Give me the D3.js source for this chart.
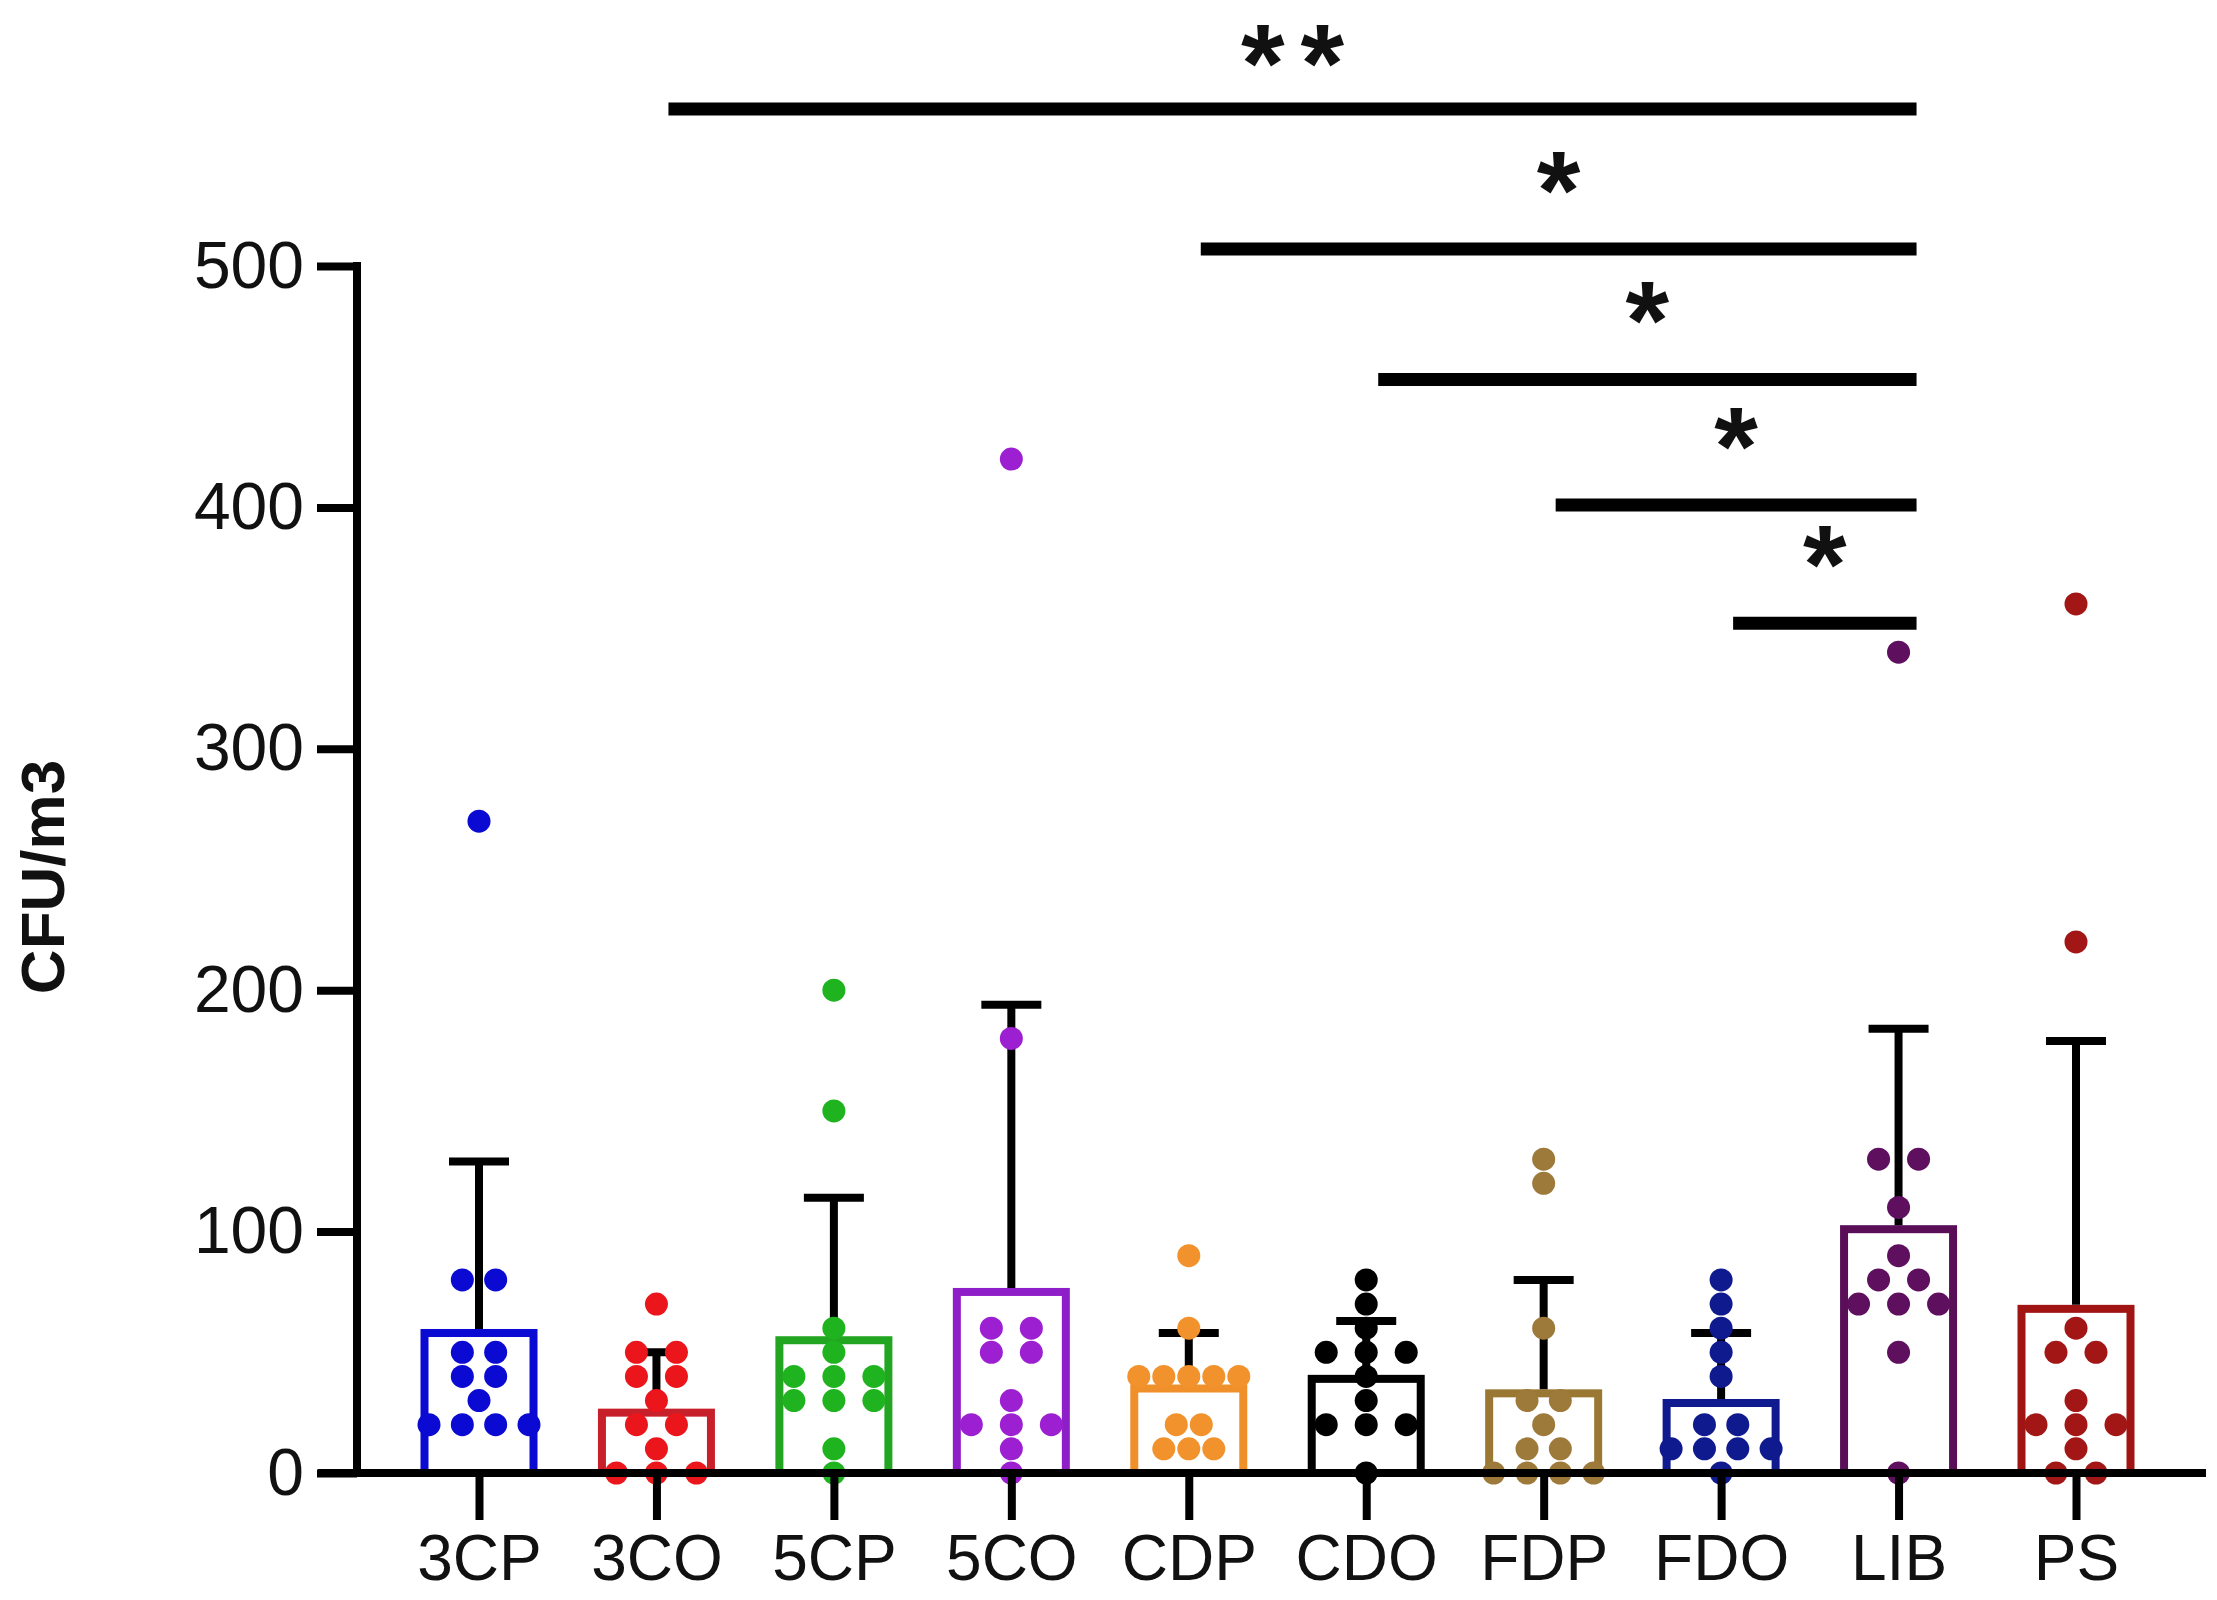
<!DOCTYPE html>
<html>
<head>
<meta charset="utf-8">
<script src="https://cdn.jsdelivr.net/npm/d3@7"></script>
<style>
  html, body { margin: 0; padding: 0; background: #ffffff; }
  svg { display: block; }
  text { font-family: "Liberation Sans", Arial, sans-serif; fill: #111; }
</style>
</head>
<body>
<svg id="chart" width="2217" height="1600"></svg>
<script>
// ---------- data ----------
const categories = ["3CP", "3CO", "5CP", "5CO", "CDP", "CDO", "FDP", "FDO", "LIB", "PS"];
const means      = [58, 25, 55, 75, 35, 39, 33, 29, 101, 68];
const errorTops  = [129, 50, 114, 194, 58, 63, 80, 58, 184, 179];
const points = [
  [270, 80, 80, 50, 50, 40, 40, 30, 20, 20, 20, 20],
  [70, 50, 50, 40, 40, 30, 20, 20, 10, 0, 0, 0],
  [200, 150, 60, 50, 40, 40, 40, 30, 30, 30, 10, 0],
  [420, 180, 60, 60, 50, 50, 30, 20, 20, 20, 10, 0],
  [90, 60, 40, 40, 40, 40, 40, 20, 20, 10, 10, 10],
  [80, 70, 60, 50, 50, 50, 40, 30, 20, 20, 20, 0],
  [130, 120, 60, 30, 30, 20, 10, 10, 0, 0, 0, 0],
  [80, 70, 60, 50, 40, 20, 20, 10, 10, 10, 10, 0],
  [340, 130, 130, 110, 90, 80, 80, 70, 70, 70, 50, 0],
  [360, 220, 60, 50, 50, 30, 20, 20, 20, 10, 0, 0]
];
const dotColors = ["#0a0ad2", "#ea161c", "#1fb41f", "#9c20d2", "#f1922c", "#000000", "#9d7a3a", "#0e1a8e", "#5e0f5e", "#a31616"];
const barColors = ["#0a0ad2", "#c8202a", "#22a622", "#8e1ec8", "#f0902a", "#000000", "#9a7834", "#0e1a8e", "#5a0e58", "#a01414"];
const yTicks = [0, 100, 200, 300, 400, 500];
const yLabel = "CFU/m3";
const comparisons = [
  { from: "3CO", to: "LIB", level: 565, label: "**" },
  { from: "CDP", to: "LIB", level: 507, label: "*" },
  { from: "CDO", to: "LIB", level: 453, label: "*" },
  { from: "FDP", to: "LIB", level: 401, label: "*" },
  { from: "FDO", to: "LIB", level: 352, label: "*" }
];

// ---------- layout ----------
const svg = d3.select("#chart");
const y = d3.scaleLinear().domain([0, 500]).range([1473, 266]);
const x = d3.scalePoint().domain(categories).range([479, 2076]);
const axisX = 357;
const barW = 109;

const g = svg.append("g");

// bars
g.selectAll("rect.bar").data(categories).join("rect")
  .attr("class", "bar")
  .attr("x", d => x(d) - barW / 2)
  .attr("y", (d, i) => y(means[i]))
  .attr("width", barW)
  .attr("height", (d, i) => y(0) - y(means[i]))
  .attr("fill", "none")
  .attr("stroke", (d, i) => barColors[i])
  .attr("stroke-width", 8);

// error bars
const eb = g.selectAll("g.eb").data(categories).join("g").attr("class", "eb");
eb.append("line")
  .attr("x1", d => x(d)).attr("x2", d => x(d))
  .attr("y1", (d, i) => y(means[i]) - 4)
  .attr("y2", (d, i) => y(errorTops[i]))
  .attr("stroke", "#000").attr("stroke-width", 8);
eb.append("line")
  .attr("x1", d => x(d) - 30).attr("x2", d => x(d) + 30)
  .attr("y1", (d, i) => y(errorTops[i]))
  .attr("y2", (d, i) => y(errorTops[i]))
  .attr("stroke", "#000").attr("stroke-width", 8);

// axes
const yAxis = d3.axisLeft(y).tickValues(yTicks).tickSize(40).tickPadding(13).tickSizeOuter(0);
const ya = svg.append("g").attr("transform", `translate(${axisX},0)`).call(yAxis);
ya.select(".domain").attr("stroke", "#000").attr("stroke-width", 8)
  .attr("d", `M0,${y(0)}V${y(500) - 4}`);
ya.selectAll(".tick line").attr("stroke", "#000").attr("stroke-width", 8);
ya.selectAll(".tick text").attr("font-size", 66).attr("fill", "#111")
  .attr("font-family", "Liberation Sans, Arial, sans-serif");

const xAxis = d3.axisBottom(x).tickSize(47).tickPadding(15).tickSizeOuter(0);
const xa = svg.append("g").attr("transform", `translate(0,${y(0)})`).call(xAxis);
xa.select(".domain").attr("stroke", "#000").attr("stroke-width", 8)
  .attr("d", `M318,0H2206`);
xa.selectAll(".tick line").attr("stroke", "#000").attr("stroke-width", 8);
xa.selectAll(".tick text").attr("font-size", 64).attr("fill", "#111")
  .attr("font-family", "Liberation Sans, Arial, sans-serif");

// dots (scatter with horizontal spreading of equal values)
points.forEach((vals, gi) => {
  const counts = d3.rollup(vals, v => v.length, v => v);
  const maxN = d3.max(Array.from(counts.values()));
  const spacing = maxN > 1 ? Math.min(40, 100 / (maxN - 1)) : 0;
  const seen = new Map();
  const dots = vals.map(v => {
    const n = counts.get(v);
    const k = seen.get(v) || 0;
    seen.set(v, k + 1);
    return { v, off: (k - (n - 1) / 2) * spacing };
  });
  g.selectAll(null).data(dots).join("circle")
    .attr("cx", d => x(categories[gi]) + d.off)
    .attr("cy", d => y(d.v))
    .attr("r", 11.5)
    .attr("fill", dotColors[gi]);
});

// y axis title
svg.append("text")
  .attr("transform", `translate(42,877) rotate(-90)`)
  .attr("text-anchor", "middle")
  .attr("dominant-baseline", "central")
  .attr("font-size", 62)
  .attr("font-weight", "bold")
  .text(yLabel);

// significance brackets
const sig = svg.append("g");
const starSize = 112;
comparisons.forEach(c => {
  const x1 = x(c.from) + 12, x2 = x(c.to) + 18, yy = y(c.level);
  sig.append("line").attr("x1", x1).attr("x2", x2).attr("y1", yy).attr("y2", yy)
    .attr("stroke", "#000").attr("stroke-width", 13);
  const ls = c.label.length > 1 ? 16 : 0;
  sig.append("text")
    .attr("x", (x1 + x2) / 2 + ls / 2)
    .attr("y", Math.max(yy - 20, Math.ceil(starSize * 0.91)))
    .attr("text-anchor", "middle")
    .attr("font-size", starSize)
    .attr("font-weight", "bold")
    .attr("letter-spacing", ls)
    .text(c.label);
});
</script>
</body>
</html>
